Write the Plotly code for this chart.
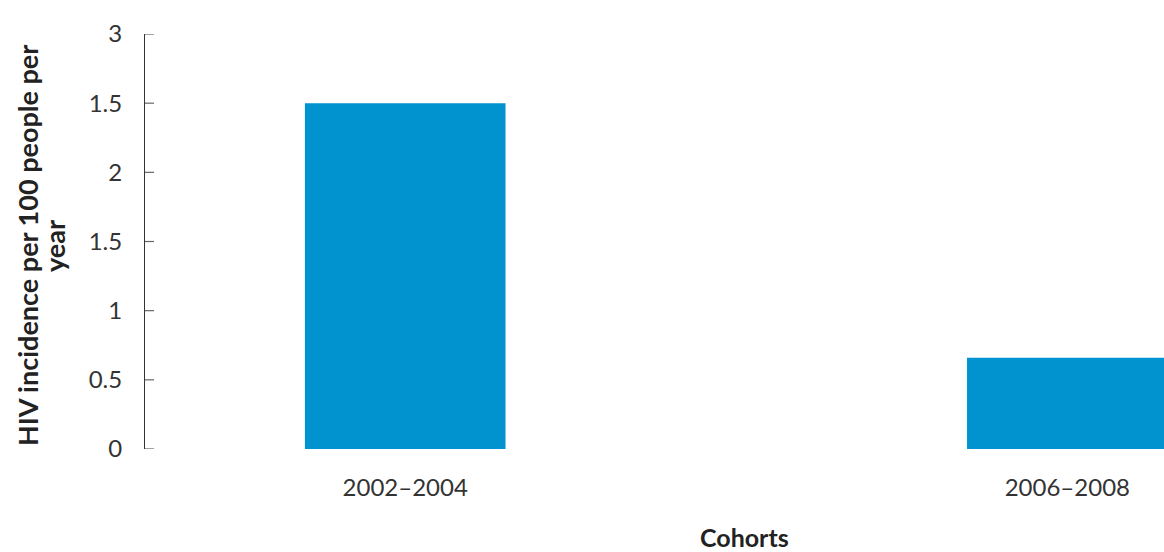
import plotly.graph_objects as go

categories = ["2002–2004", "2006–2008"]
incidence = [2.5, 0.66]
y_tick_vals = [0, 0.5, 1, 1.5, 2, 2.5, 3]
y_tick_text = ["0", "0.5", "1", "1.5", "2", "1.5", "3"]
y_title_lines = ["HIV incidence per 100 people per", "year"]

W, H = 1164, 552
ml, mr, mt, mb = 145, 0, 34, 103
pw, ph = W - ml - mr, H - mt - mb
tick_len_px = 9

fig = go.Figure(go.Bar(x=categories, y=incidence, marker=dict(color="#0093d0", line=dict(width=0)),
                       width=0.303))

# small tick marks pointing into the plot, positioned by the y axis scale
for v in y_tick_vals:
    fig.add_shape(type="line", xref="paper", yref="y", x0=0, x1=tick_len_px / pw, y0=v, y1=v,
                  line=dict(color="#666666", width=1.2), layer="above")

title_font = dict(size=27, color="#222222", family="Lato")
fig.update_layout(
    width=W, height=H,
    margin=dict(l=ml, r=mr, t=mt, b=mb, pad=0),
    paper_bgcolor="white", plot_bgcolor="white",
    font=dict(family="Lato", color="#333333"),
    showlegend=False,
    xaxis=dict(type="category", range=[-0.393, 1.146], showline=False, showgrid=False,
               zeroline=False, ticks="", ticklabelstandoff=22,
               tickfont=dict(size=24, color="#333333")),
    yaxis=dict(range=[0, 3], tickvals=y_tick_vals, ticktext=y_tick_text,
               showline=True, linecolor="#333333", linewidth=1, showgrid=False, zeroline=False,
               ticks="", ticklabelstandoff=17, tickfont=dict(size=24, color="#333333")),
    annotations=[
        dict(text="<b>" + y_title_lines[0] + "</b>", textangle=-90,
             xref="paper", yref="paper", x=(27 - ml) / pw, y=(449 - 246) / ph,
             xanchor="center", yanchor="middle", showarrow=False, font=title_font),
        dict(text="<b>" + y_title_lines[1] + "</b>", textangle=-90,
             xref="paper", yref="paper", x=(54 - ml) / pw, y=(449 - 246) / ph,
             xanchor="center", yanchor="middle", showarrow=False, font=title_font),
        dict(text="<b>Cohorts</b>", xref="paper", yref="paper",
             x=(744 - ml) / pw, y=-(537 - 449) / ph, xanchor="center", yanchor="middle",
             showarrow=False, font=dict(size=25, color="#222222", family="Lato")),
    ],
)

fig.write_html("out.html", config={"displayModeBar": False},
               post_script="document.body.style.margin='0';document.body.style.overflow='hidden';")
